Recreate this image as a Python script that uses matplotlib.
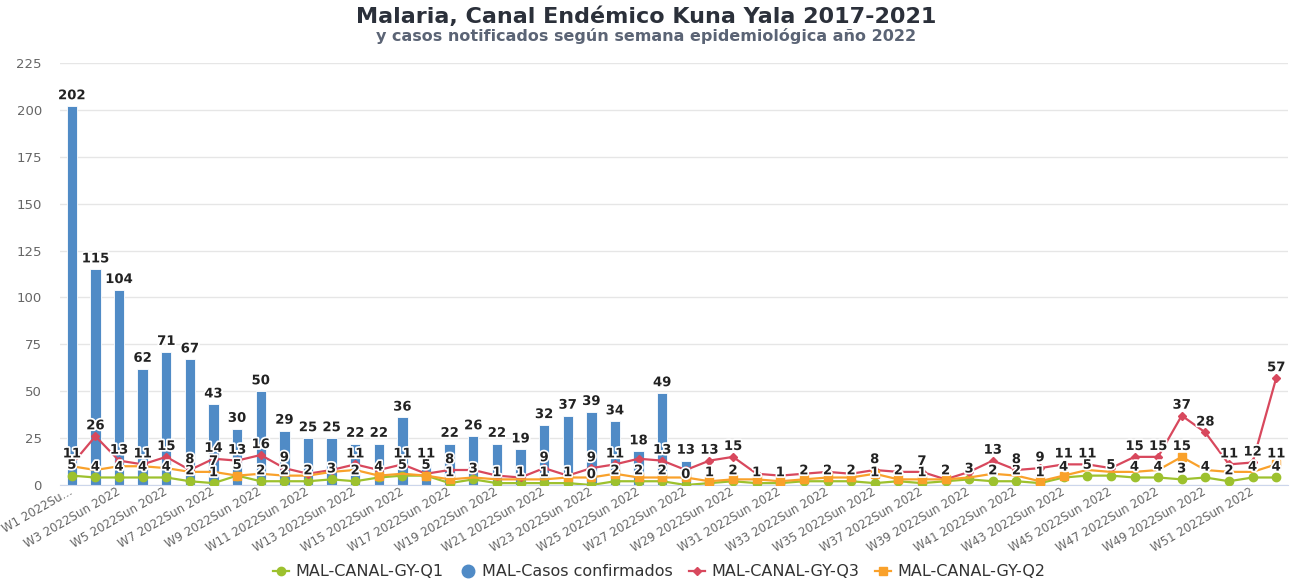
import numpy as np
import matplotlib.pyplot as plt
from matplotlib.lines import Line2D
import matplotlib.patheffects as pe

# weeks 1..52 of 2022
weeks = [f"W{i} 2022Sun 2022" for i in range(1, 53)]
weeks[0] = "W1 2022Su..."

casos = [202, 115, 104, 62, 71, 67, 43, 30, 50, 29,
         25, 25, 22, 22, 36, 11, 22, 26, 22, 19,
         32, 37, 39, 34, 18, 49, 13] + [np.nan] * 25

q3 = [11, 26, 13, 11, 15, 8, 14, 13, 16, 9,
      6, 8, 11, 8, 11, 6, 8, 8, 5, 4,
      9, 5, 9, 11, 14, 13, 8, 13, 15, 6,
      5, 6, 7, 6, 8, 7, 7, 3, 7, 13,
      8, 9, 11, 11, 9, 15, 15, 37, 28, 11,
      12, 57]

q2 = [10, 8, 10, 10, 9, 7, 7, 5, 6, 5,
      5, 7, 8, 5, 6, 5, 3, 4, 3, 3,
      3, 4, 4, 6, 4, 4, 4, 2, 3, 3,
      2, 3, 4, 4, 6, 3, 3, 3, 4, 6,
      5, 2, 5, 8, 7, 7, 8, 15, 8, 7,
      7, 11]

q1 = [5, 4, 4, 4, 4, 2, 1, 5, 2, 2,
      2, 3, 2, 4, 5, 5, 1, 3, 1, 1,
      1, 1, 0, 2, 2, 2, 0, 1, 2, 1,
      1, 2, 2, 2, 1, 2, 1, 2, 3, 2,
      2, 1, 4, 5, 5, 4, 4, 3, 4, 2,
      4, 4]

c_bar = '#508bc6'
c_q1 = '#9dc12e'
c_q3 = '#d8485d'
c_q2 = '#f9a12b'

x = np.arange(len(weeks))

fig = plt.figure(figsize=(12.93, 5.83), dpi=100)
ax = fig.add_axes([60 / 1293, 98 / 583, 1228 / 1293, 422 / 583])

ax.bar(x, casos, width=0.44, color=c_bar, edgecolor='white', linewidth=0.6, zorder=2)
ax.plot(x, q1, color=c_q1, lw=1.6, marker='o', ms=6, zorder=3)
ax.plot(x, q3, color=c_q3, lw=1.6, marker='D', ms=4, zorder=4)
sq = [7, 13, 15, 16] + list(range(21, 38)) + [41, 42, 47, 51]
ax.plot(x, q2, color=c_q2, lw=1.6, marker='s', ms=6, markevery=sq, zorder=5)

ax.set_xlim(-0.5, 51.5)
ax.set_ylim(0, 225)
ax.set_yticks(range(0, 226, 25))
ax.grid(axis='y', color='#e6e6e6', lw=1, zorder=0)
ax.set_axisbelow(True)
for s in ['top', 'right', 'left']:
    ax.spines[s].set_visible(False)
ax.spines['bottom'].set_color('#ccd6eb')
ax.tick_params(axis='y', length=0, pad=13, labelsize=9.5, labelcolor='#666666')
ax.tick_params(axis='x', length=0, pad=4, labelsize=8.5, labelcolor='#666666')
ax.set_xticks(x[::2])
ax.set_xticklabels(weeks[::2], rotation=30, ha='right', va='center', rotation_mode='anchor')

# data labels, hiding the ones that overlap (like the original)
placed = []
for vals in [q1, casos, q3, q2]:
    for i, v in enumerate(vals):
        if np.isnan(v):
            continue
        txt = str(int(v))
        px, py = ax.transData.transform((i, v))
        cy = py + 10.5
        w = 9 * len(txt)
        hit = False
        for (ox, oy, ow) in placed:
            if abs(px - ox) < (w + ow) / 2 - 2 and abs(cy - oy) < 10:
                hit = True
                break
        if hit:
            continue
        placed.append((px, cy, w))
        ax.annotate(txt, (i, v), xytext=(0, 7.5), textcoords='offset points',
                    ha='center', va='center', fontsize=9.5, fontweight='bold',
                    color='#222222', zorder=10,
                    path_effects=[pe.withStroke(linewidth=2.5, foreground='white')])

fig.text(0.5, 1 - 17 / 583, 'Malaria, Canal Endémico Kuna Yala 2017-2021',
         ha='center', va='center', fontsize=16, fontweight='bold', color='#2b303a')
fig.text(0.5, 1 - 36 / 583, 'y casos notificados según semana epidemiológica año 2022',
         ha='center', va='center', fontsize=11.5, fontweight='bold', color='#5b6475')

handles = [
    Line2D([], [], color=c_q1, lw=1.6, marker='o', ms=6),
    Line2D([], [], color=c_bar, lw=0, marker='o', ms=9),
    Line2D([], [], color=c_q3, lw=1.6, marker='D', ms=4),
    Line2D([], [], color=c_q2, lw=1.6, marker='s', ms=6),
]
names = ['MAL-CANAL-GY-Q1', 'MAL-Casos confirmados', 'MAL-CANAL-GY-Q3', 'MAL-CANAL-GY-Q2']
fig.legend(handles, names, loc='center', bbox_to_anchor=(0.51, 1 - 572 / 583), ncol=4,
           frameon=False, fontsize=11.5, handlelength=1.0, handletextpad=0.4,
           columnspacing=1.0, labelcolor='#333333')

fig.savefig('out.png', dpi=100)
